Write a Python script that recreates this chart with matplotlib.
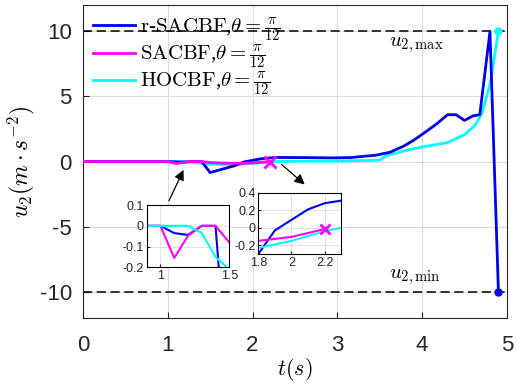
import matplotlib
matplotlib.use('Agg')
import matplotlib.pyplot as plt

plt.rcParams['font.family'] = ['Liberation Sans', 'DejaVu Sans']
plt.rcParams['mathtext.fontset'] = 'cm'
plt.rcParams['axes.unicode_minus'] = False

# r-SACBF
t_r = [0, 1.0, 1.1, 1.2, 1.3, 1.4, 1.5, 1.8, 1.9, 2.0, 2.1, 2.2, 2.3, 2.6, 2.95, 3.15,
       3.45, 3.62, 3.78, 3.9, 4.05, 4.17, 4.3, 4.4, 4.5, 4.6, 4.68, 4.8, 4.9]
u_r = [0, 0, -0.035, -0.044, 0, 0, -0.85, -0.3, -0.03, 0.09, 0.21, 0.28, 0.31, 0.3, 0.28, 0.3,
       0.48, 0.71, 1.17, 1.63, 2.31, 2.88, 3.59, 3.59, 3.15, 3.5, 3.59, 9.95, -10]
# SACBF
t_s = [0, 1.0, 1.1, 1.2, 1.3, 1.4, 1.5, 1.8, 2.0, 2.2]
u_s = [0, 0, -0.155, -0.048, 0, 0, -0.08, -0.15, -0.105, -0.015]
# HOCBF
t_h = [0, 1.2, 1.3, 1.4, 1.5, 1.8, 2.0, 2.2, 2.3, 2.6, 3.0, 3.5, 3.58, 3.82, 4.0, 4.3,
       4.5, 4.62, 4.7, 4.8, 4.9]
u_h = [0, 0, -0.035, -0.15, -0.21, -0.23, -0.15, -0.04, 0.0, 0.02, 0.03, 0.1, 0.46, 0.86,
       1.12, 1.45, 2.06, 2.75, 3.59, 5.88, 10]

u_max, u_min = 10, -10

c_r = '#0000ee'
c_s = '#ff00ff'
c_h = '#00ffff'
tick_col = '#262626'

fig = plt.figure(figsize=(5.17, 3.89), dpi=100)
ax = fig.add_axes([0.1605, 0.1825, 0.820, 0.8046])

ax.plot(t_r, u_r, color=c_r, lw=2, label=r'$\mathrm{r}$-$\mathrm{SACBF}$,$\theta=\frac{\pi}{12}$', zorder=4)
ax.plot(t_s, u_s, color=c_s, lw=2, label=r'$\mathrm{SACBF}$,$\theta=\frac{\pi}{12}$', zorder=5)
ax.plot(t_h, u_h, color=c_h, lw=2, label=r'$\mathrm{HOCBF}$,$\theta=\frac{\pi}{12}$', zorder=3)
ax.plot(t_s[-1], u_s[-1], 'x', color=c_s, ms=8, mew=2, zorder=6)
ax.plot(t_r[-1], u_r[-1], 'o', color=c_r, ms=5, zorder=6)
ax.plot(t_h[-1], u_h[-1], 'o', color=c_h, ms=5, zorder=6)

ax.axhline(u_max, color='k', ls=(0, (6, 3)), lw=1.1, zorder=2)
ax.axhline(u_min, color='k', ls=(0, (6, 3)), lw=1.1, zorder=2)
ax.text(3.61, 9.7, r'$u_{2,\mathrm{max}}$', fontsize=15, va='top', ha='left')
ax.text(3.61, -9.6, r'$u_{2,\mathrm{min}}$', fontsize=15, va='bottom', ha='left')

ax.set_xlim(0, 5)
ax.set_ylim(-12, 12)
ax.set_xticks([0, 1, 2, 3, 4, 5])
ax.set_yticks([-10, -5, 0, 5, 10])
ax.tick_params(direction='in', labelsize=16, colors=tick_col, length=4, pad=8)
ax.tick_params(axis='x', pad=12)
ax.grid(True, color='#dcdcdc', lw=0.8)
ax.set_axisbelow(True)
for sp in ax.spines.values():
    sp.set_color(tick_col)
    sp.set_linewidth(0.8)
ax.set_xlabel(r'$t(s)$', fontsize=16, labelpad=0)
ax.set_ylabel(r'$u_2(m\cdot s^{-2})$', fontsize=17, labelpad=2)

leg = ax.legend(loc='upper left', frameon=False, handlelength=2.0,
                handletextpad=0.25, labelspacing=0.0, borderaxespad=0.1,
                prop={'family': ['Liberation Serif'], 'size': 15})

ax.annotate('', xy=(1.2, -0.45), xytext=(1.0, -3.2),
            arrowprops=dict(arrowstyle='-|>', color='k', lw=0.9, mutation_scale=15))
ax.annotate('', xy=(2.64, -1.9), xytext=(2.32, -0.1),
            arrowprops=dict(arrowstyle='-|>', color='k', lw=0.9, mutation_scale=15))

def make_inset(rect, xlim, ylim, xticks, yticks, xlabels, ylabels, mark):
    a = fig.add_axes(rect)
    a.plot(t_r, u_r, color=c_r, lw=1.5)
    a.plot(t_s, u_s, color=c_s, lw=1.5)
    a.plot(t_h, u_h, color=c_h, lw=1.5)
    if mark:
        a.plot(t_s[-1], u_s[-1], 'x', color=c_s, ms=7, mew=2)
    a.set_xlim(*xlim)
    a.set_ylim(*ylim)
    a.set_xticks(xticks)
    a.set_xticklabels(xlabels)
    a.set_yticks(yticks)
    a.set_yticklabels(ylabels)
    a.tick_params(direction='in', labelsize=9, colors=tick_col, length=2, pad=2)
    a.grid(True, color='#dcdcdc', lw=0.6)
    a.set_axisbelow(True)
    for sp in a.spines.values():
        sp.set_color('k')
        sp.set_linewidth(0.8)
    return a

make_inset([0.2837, 0.3128, 0.1598, 0.160], (0.9, 1.5), (-0.2, 0.1),
           [1, 1.5], [-0.2, -0.1, 0, 0.1], ['1', '1.5'], ['-0.2', '-0.1', '0', '0.1'], False)
make_inset([0.4996, 0.347, 0.1605, 0.1576], (1.8, 2.3), (-0.3, 0.4),
           [1.8, 2.0, 2.2], [-0.2, 0, 0.2, 0.4], ['1.8', '2', '2.2'], ['-0.2', '0', '0.2', '0.4'], True)

fig.savefig('out.png', dpi=100)
